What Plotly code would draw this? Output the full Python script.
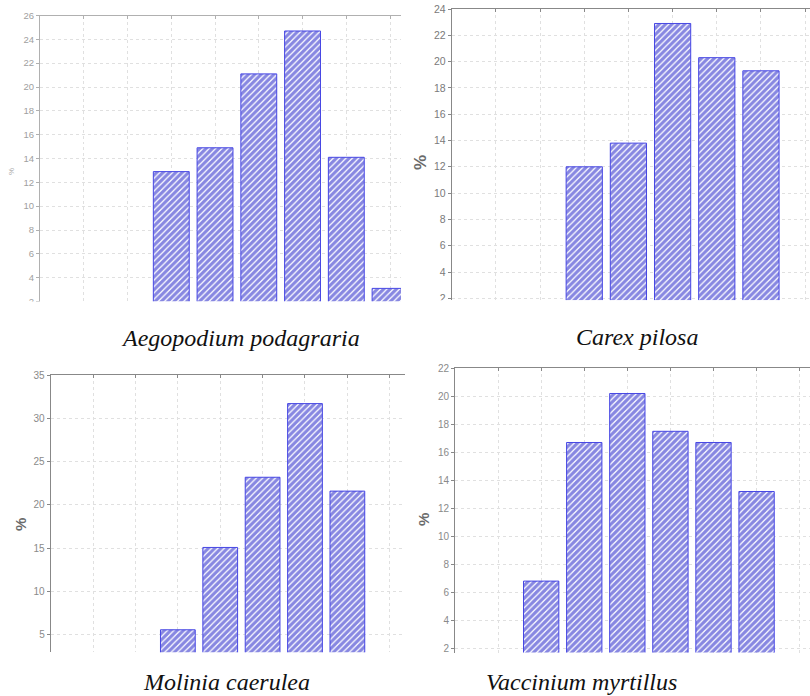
import plotly.graph_objects as go

# ---- data (class index on x, percent on y) ----
aegopodium_classes = [3, 4, 5, 6, 7, 8]
aegopodium_pct = [12.9, 14.9, 21.1, 24.7, 14.1, 3.1]

carex_classes = [3, 4, 5, 6, 7]
carex_pct = [12.0, 13.8, 22.9, 20.3, 19.3]

molinia_classes = [3, 4, 5, 6, 7]
molinia_pct = [5.6, 15.1, 23.2, 31.7, 21.6]

vaccinium_classes = [2, 3, 4, 5, 6, 7]
vaccinium_pct = [6.8, 16.7, 20.2, 17.5, 16.7, 13.2]

captions = ["Aegopodium podagraria", "Carex pilosa", "Molinia caerulea", "Vaccinium myrtillus"]

W, H = 810, 696

def dx(px):
    return px / W

def dy(py):
    return 1 - py / H

BLUE = "#0f0fc4"
EDGE = "#4646e4"

panels = [
    dict(x=aegopodium_classes, y=aegopodium_pct, xp=(40, 401), yp=(15.5, 301.5),
         yr=[2, 26], xr=[0, 8.25], dt=2, tc="#a0a0a0", ts=9.5, lc="#b0b0b0"),
    dict(x=carex_classes, y=carex_pct, xp=(451.7, 810), yp=(9, 300.3),
         yr=[1.85, 24], xr=[0, 8.11], dt=2, tc="#7a7a7a", ts=10.5, lc="#888888"),
    dict(x=molinia_classes, y=molinia_pct, xp=(50.7, 405), yp=(375, 652.3),
         yr=[3, 35], xr=[0, 8.36], dt=5, tc="#8a8a8a", ts=10, lc="#888888"),
    dict(x=vaccinium_classes, y=vaccinium_pct, xp=(455, 810), yp=(368.3, 652.5),
         yr=[1.7, 22], xr=[0, 8.24], dt=2, tc="#8a8a8a", ts=10, lc="#888888"),
]

fig = go.Figure()
layout = dict(width=W, height=H, margin=dict(l=0, r=0, t=0, b=0, autoexpand=False),
              paper_bgcolor="white", plot_bgcolor="white", showlegend=False)

for i, p in enumerate(panels, start=1):
    xa = "x" if i == 1 else f"x{i}"
    ya = "y" if i == 1 else f"y{i}"
    fig.add_trace(go.Bar(
        x=p["x"], y=p["y"], xaxis=xa, yaxis=ya, width=0.82,
        marker=dict(color="white",
                    line=dict(color=EDGE, width=1),
                    pattern=dict(shape="/", fgcolor=BLUE, bgcolor="white",
                                 size=4.5, solidity=0.72, fillmode="overlay")),
        hoverinfo="skip",
    ))
    xkey = "xaxis" if i == 1 else f"xaxis{i}"
    ykey = "yaxis" if i == 1 else f"yaxis{i}"
    layout[xkey] = dict(domain=[dx(p["xp"][0]), dx(p["xp"][1])], anchor=ya,
                        range=p["xr"], side="top", tickvals=list(range(0, 9)),
                        showticklabels=False, ticks="inside", ticklen=3,
                        tickcolor=p["lc"], showline=True, linecolor=p["lc"],
                        linewidth=1, showgrid=True, gridcolor="#e0e0e0",
                        griddash="dot", gridwidth=1, zeroline=False,
                        fixedrange=True, automargin=False)
    layout[ykey] = dict(domain=[dy(p["yp"][1]), dy(p["yp"][0])], anchor=xa,
                        range=p["yr"], dtick=p["dt"], tick0=0, ticks="outside",
                        ticklen=3, tickcolor=p["lc"], showline=True,
                        linecolor=p["lc"], linewidth=1, showgrid=True,
                        gridcolor="#e0e0e0", griddash="dot", gridwidth=1,
                        zeroline=False, fixedrange=True, automargin=False,
                        tickfont=dict(family="Liberation Sans", size=p["ts"], color=p["tc"]))

fig.update_layout(**layout)

# "%" axis labels
pct_labels = [
    (12, 172, 8, "#a8a8a8", False),
    (420, 163, 17, "#6a6a6a", True),
    (20, 525, 15, "#6a6a6a", True),
    (423, 520, 15, "#6a6a6a", True),
]
for (px, py, sz, col, bold) in pct_labels:
    fig.add_annotation(x=dx(px), y=dy(py), xref="paper", yref="paper",
                       text="<b>%</b>" if bold else "%", showarrow=False,
                       textangle=-90, xanchor="center", yanchor="middle",
                       font=dict(family="Liberation Sans", size=sz, color=col))

# captions (species names)
caption_pos = [(240, 338), (637, 337), (227, 682), (581, 682)]
for text, (px, py) in zip(captions, caption_pos):
    fig.add_annotation(x=dx(px), y=dy(py), xref="paper", yref="paper",
                       text=f"<i>{text}</i>", showarrow=False,
                       xanchor="center", yanchor="middle",
                       font=dict(family="Liberation Serif", size=24, color="#111111"))

# crop of the top panels' bottom edge (as in the reference image)
fig.add_shape(type="rect", xref="paper", yref="paper", layer="above",
              x0=0, x1=dx(405), y0=dy(312), y1=dy(301.5),
              fillcolor="white", line=dict(width=0))
fig.add_shape(type="rect", xref="paper", yref="paper", layer="above",
              x0=dx(405), x1=1, y0=dy(312), y1=dy(300.3),
              fillcolor="white", line=dict(width=0))

fig.write_html("out.html", config={"displayModeBar": False},
               post_script="document.body.style.margin='0';")
